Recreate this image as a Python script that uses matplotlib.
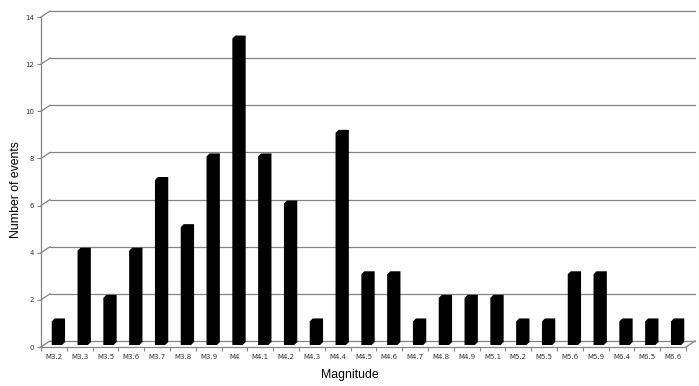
import matplotlib
matplotlib.use("Agg")
import numpy as np
from matplotlib import pyplot as plt
from matplotlib.transforms import offset_copy

# ---------------------------------------------------------------------------
# data
# ---------------------------------------------------------------------------
magnitudes = ["M3.2", "M3.3", "M3.5", "M3.6", "M3.7", "M3.8", "M3.9", "M4",
              "M4.1", "M4.2", "M4.3", "M4.4", "M4.5", "M4.6", "M4.7", "M4.8",
              "M4.9", "M5.1", "M5.2", "M5.5", "M5.6", "M5.9", "M6.4", "M6.5",
              "M6.6"]
events = [1, 4, 2, 4, 7, 5, 8, 13, 8, 6, 1, 9, 3, 3, 1, 2, 2, 2, 1, 1, 3, 3,
          1, 1, 1]
y_ticks = [0, 2, 4, 6, 8, 10, 12, 14]

W, H, DPI = 699, 386, 100
fig = plt.figure(figsize=(W / DPI, H / DPI), dpi=DPI)
left, right, bottom, top = 41, 686, 347, 17
ax = fig.add_axes([left / W, (H - bottom) / H, (right - left) / W, (bottom - top) / H])

n = len(magnitudes)
ax.set_xlim(0, n)
ax.set_ylim(0, 14)

# pixel -> data conversion (pseudo 3-D offsets of the Excel chart)
px_x = n / (right - left)
px_y = 14 / (bottom - top)
wall_dx, wall_dy = 9 * px_x, 6 * px_y
grid_col = "#858585"

# back wall gridlines + the little diagonals joining them to the axis
for yv in y_ticks:
    ax.plot([wall_dx, n + wall_dx], [yv + wall_dy, yv + wall_dy], color=grid_col,
            lw=0.9, clip_on=False, zorder=1)
    ax.plot([0, wall_dx], [yv, yv + wall_dy], color=grid_col, lw=0.9,
            clip_on=False, zorder=1)
# right edge of the floor
ax.plot([n, n + wall_dx], [0, wall_dy], color=grid_col, lw=0.9, clip_on=False, zorder=1)

# bars: front face plus thin top/side faces, all black
bar_tr = offset_copy(ax.transData, fig=fig, x=3, y=2, units="dots")
bw = 0.40
d, e = 3 * px_x, 3 * px_y
for i, v in enumerate(events):
    x0 = i + 0.5 - bw / 2
    x1 = x0 + bw
    xs = [x0, x1, x1 + d, x1 + d, x0 + d, x0]
    ys = [0, 0, e, v + e, v + e, v]
    ax.fill(xs, ys, color="black", lw=0, transform=bar_tr, zorder=3, clip_on=False)

# axes styling
for s in ["top", "right"]:
    ax.spines[s].set_visible(False)
for s in ["left", "bottom"]:
    ax.spines[s].set_color(grid_col)
    ax.spines[s].set_linewidth(0.9)

ax.set_yticks(y_ticks)
ax.set_yticklabels([str(t) for t in y_ticks])
ax.tick_params(axis="y", length=3, width=0.8, color=grid_col, labelsize=5,
               labelcolor="#333333", pad=2)

ax.set_xticks(np.arange(n + 1), minor=True)
ax.set_xticks(np.arange(n) + 0.5)
ax.set_xticklabels(magnitudes)
ax.tick_params(axis="x", which="major", length=0, labelsize=5,
               labelcolor="#333333", pad=5)
ax.tick_params(axis="x", which="minor", length=3, width=0.8, color=grid_col)

fig.text(350 / W, 1 - 375 / H, "Magnitude", ha="center", va="center",
         fontsize=8.8, family="Liberation Sans")
fig.text(16 / W, 1 - 190 / H, "Number of events", ha="center", va="center",
         rotation=90, fontsize=8.8, family="Liberation Sans")

fig.savefig("out.png", dpi=DPI)
